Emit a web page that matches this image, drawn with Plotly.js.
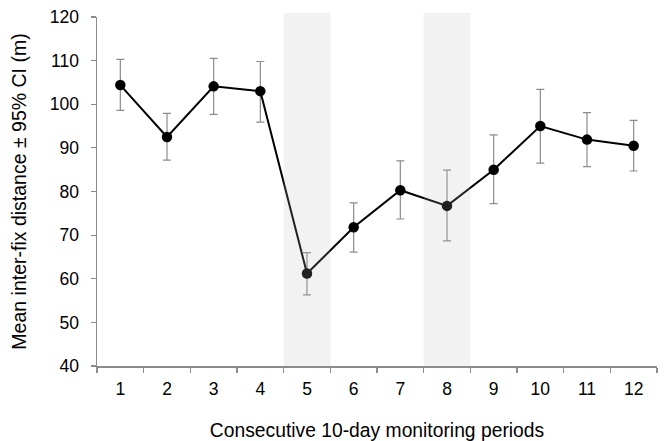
<!DOCTYPE html>
<html>
<head>
<meta charset="utf-8">
<script src="https://cdn.plot.ly/plotly-3.0.1.min.js"></script>
<style>html,body{margin:0;padding:0;background:#fff;}#chart{width:668px;height:441px;}</style>
</head>
<body>
<div id="chart"></div>
<script>
const periods = ["1","2","3","4","5","6","7","8","9","10","11","12"];
const meanDist = [104.4, 92.5, 104.1, 103.0, 61.2, 71.8, 80.3, 76.7, 85.0, 95.0, 91.9, 90.5];
const ciUpper = [110.3, 97.9, 110.5, 109.8, 66.0, 77.4, 87.0, 84.9, 93.0, 103.4, 98.1, 96.3];
const ciLower = [98.6, 87.2, 97.7, 95.9, 56.3, 66.1, 73.7, 68.7, 77.2, 86.5, 85.7, 84.7];
const shadedPeriods = ["5","8"];

const errPlus = meanDist.map((v,i)=>ciUpper[i]-v);
const errMinus = meanDist.map((v,i)=>v-ciLower[i]);

const trace = {
  x: periods, y: meanDist, type: 'scatter', mode: 'lines+markers',
  line: {color: '#000', width: 2},
  marker: {color: '#000', size: 10.5},
  error_y: {type: 'data', symmetric: false, array: errPlus, arrayminus: errMinus,
            color: '#8c8c8c', thickness: 1.2, width: 4},
  showlegend: false, cliponaxis: false
};

const shapes = shadedPeriods.map(p => {
  const idx = periods.indexOf(p);
  return {type: 'rect', xref: 'x', yref: 'paper', x0: idx-0.5, x1: idx+0.5, y0: 0, y1: 1.012,
          fillcolor: 'rgba(185,185,185,0.18)', line: {width: 0}, layer: 'above'};
});

const font = {family: 'Liberation Sans, Arial, sans-serif', color: '#000'};

const layout = {
  width: 668, height: 441,
  margin: {l: 97, r: 11, t: 17, b: 75},
  paper_bgcolor: '#fff', plot_bgcolor: '#fff',
  font: Object.assign({size: 17.5}, font),
  xaxis: {
    type: 'category', tickson: 'boundaries', range: [-0.5, 11.5],
    showline: true, linecolor: '#8c8c8c', linewidth: 1.5,
    ticks: 'outside', ticklen: 5, tickcolor: '#8c8c8c', tickwidth: 1.2,
    showgrid: false, zeroline: false,
    tickfont: Object.assign({size: 17.5}, font), ticklabelstandoff: 6,
    title: {text: 'Consecutive 10-day monitoring periods', font: Object.assign({size: 19.3}, font), standoff: 27}
  },
  yaxis: {
    range: [40, 120], dtick: 10, tick0: 40,
    showline: true, linecolor: '#8c8c8c', linewidth: 1.5,
    ticks: 'outside', ticklen: 5, tickcolor: '#8c8c8c', tickwidth: 1.2,
    showgrid: false, zeroline: false,
    tickfont: Object.assign({size: 17.5}, font), ticklabelstandoff: 8,
    title: {text: 'Mean inter-fix distance ± 95% CI (m)', font: Object.assign({size: 19.5}, font), standoff: 18}
  },
  shapes: shapes
};

Plotly.newPlot('chart', [trace], layout, {displayModeBar: false, staticPlot: true});
</script>
</body>
</html>
